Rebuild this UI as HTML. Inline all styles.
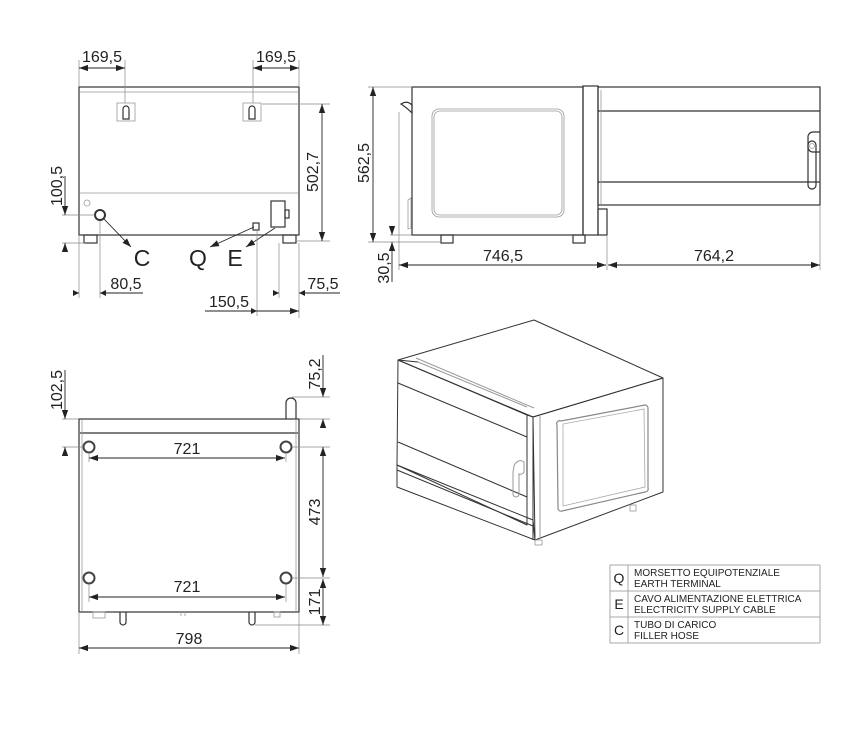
<!DOCTYPE html>
<html><head><meta charset="utf-8"><style>
html,body{margin:0;padding:0;background:#fff;}
svg{display:block;}
text{font-family:"Liberation Sans",sans-serif;fill:#222;}
.d{font-size:16px;}
.k{stroke:#333;stroke-width:1.2;fill:none;}
.g{stroke:#999;stroke-width:0.8;fill:none;}
.e{stroke:#888;stroke-width:0.7;fill:none;}
.a{stroke:#222;stroke-width:0.9;fill:none;}
</style></head><body>
<svg width="847" height="754" viewBox="0 0 847 754" xmlns="http://www.w3.org/2000/svg">
<defs>
<marker id="ar" viewBox="0 0 10 10" refX="10" refY="5" markerWidth="9" markerHeight="9" orient="auto-start-reverse" markerUnits="userSpaceOnUse"><path d="M0,1.5 L10,5 L0,8.5z" fill="#222"/></marker>
</defs>

<!-- ===== TOP-LEFT (rear view) ===== -->
<rect x="79" y="87" width="220" height="148" class="k"/>
<line x1="80" y1="92" x2="298" y2="92" class="g"/>
<line x1="80" y1="193" x2="298" y2="193" class="g"/>
<rect x="117" y="103" width="18" height="18" class="g"/>
<path d="M123,119 V109 a3,3 0 0 1 6,0 V119 z" class="k"/>
<rect x="243" y="103" width="18" height="18" class="g"/>
<path d="M249,119 V109 a3,3 0 0 1 6,0 V119 z" class="k"/>
<circle cx="87" cy="203" r="3" class="g"/>
<circle cx="100" cy="215" r="5" stroke="#333" stroke-width="2" fill="none"/>
<rect x="84" y="235" width="13" height="8" class="k"/>
<rect x="283" y="235" width="13" height="8" class="k"/>
<rect x="271" y="201" width="14" height="26" class="k"/>
<rect x="285" y="210" width="4" height="8" class="k"/>
<rect x="253" y="223" width="6" height="7" class="k"/>
<!-- dims -->
<line x1="79" y1="60" x2="79" y2="87" class="e"/>
<line x1="125" y1="60" x2="125" y2="103" class="e"/>
<line x1="253" y1="60" x2="253" y2="103" class="e"/>
<line x1="299" y1="60" x2="299" y2="87" class="e"/>
<line x1="79" y1="68" x2="125" y2="68" class="a" marker-start="url(#ar)" marker-end="url(#ar)"/>
<line x1="253" y1="68" x2="299" y2="68" class="a" marker-start="url(#ar)" marker-end="url(#ar)"/>
<text x="102" y="62" class="d" text-anchor="middle">169,5</text>
<text x="276" y="62" class="d" text-anchor="middle">169,5</text>
<line x1="262" y1="104" x2="330" y2="104" class="e"/>
<line x1="296" y1="241" x2="330" y2="241" class="e"/>
<line x1="322" y1="104" x2="322" y2="241" class="a" marker-start="url(#ar)" marker-end="url(#ar)"/>
<text transform="translate(318,172) rotate(-90)" class="d" text-anchor="middle">502,7</text>
<line x1="62" y1="215" x2="95" y2="215" class="e"/>
<line x1="62" y1="243" x2="85" y2="243" class="e"/>
<line x1="65" y1="176" x2="65" y2="215" class="a" marker-end="url(#ar)"/>
<line x1="65" y1="250" x2="65" y2="243" class="a" marker-end="url(#ar)"/>
<text transform="translate(62,186) rotate(-90)" class="d" text-anchor="middle">100,5</text>
<line x1="104" y1="219" x2="131" y2="247" class="a" marker-end="url(#ar)"/>
<line x1="254" y1="227" x2="210" y2="247" class="a" marker-end="url(#ar)"/>
<line x1="275" y1="228" x2="246" y2="247" class="a" marker-end="url(#ar)"/>
<text x="142" y="266" font-size="23" text-anchor="middle">C</text>
<text x="198" y="266" font-size="23" text-anchor="middle">Q</text>
<text x="235" y="266" font-size="23" text-anchor="middle">E</text>
<line x1="79" y1="235" x2="79" y2="298" class="e"/>
<line x1="100" y1="221" x2="100" y2="298" class="e"/>
<line x1="73" y1="293" x2="79" y2="293" class="a"/>
<line x1="100" y1="293" x2="143" y2="293" class="a"/>
<path d="M73,290 L79,293 L73,296z" fill="#222"/>
<path d="M106,290 L100,293 L106,296z" fill="#222"/>
<text x="126" y="289" class="d" text-anchor="middle">80,5</text>
<line x1="279" y1="243" x2="279" y2="298" class="e"/>
<line x1="299" y1="243" x2="299" y2="318" class="e"/>
<line x1="273" y1="293" x2="279" y2="293" class="a"/>
<line x1="299" y1="293" x2="340" y2="293" class="a"/>
<path d="M273,290 L279,293 L273,296z" fill="#222"/>
<path d="M305,290 L299,293 L305,296z" fill="#222"/>
<text x="323" y="289" class="d" text-anchor="middle">75,5</text>
<line x1="257" y1="230" x2="257" y2="316" class="e"/>
<line x1="205" y1="311" x2="257" y2="311" class="a"/>
<line x1="257" y1="311" x2="299" y2="311" class="a" marker-end="url(#ar)"/>
<path d="M251,308 L257,311 L251,314z" fill="#222"/>
<text x="229" y="307" class="d" text-anchor="middle">150,5</text>

<!-- ===== TOP-RIGHT (side view) ===== -->
<rect x="412" y="87" width="171" height="148" class="k"/>
<rect x="432" y="109" width="132" height="108" rx="7" class="g"/>
<rect x="434" y="111" width="128" height="104" rx="6" class="g"/>
<rect x="583" y="86" width="15" height="149" class="k"/>
<rect x="598" y="87" width="222" height="118" class="k"/>
<line x1="598" y1="111" x2="820" y2="111" class="k"/>
<line x1="598" y1="182" x2="820" y2="182" class="k"/>
<line x1="601" y1="90" x2="601" y2="204" class="g"/>
<path d="M820,132 h-7 a5,5 0 0 0 -5,5 v10 a5,5 0 0 0 5,5 h7" class="k"/>
<rect x="808" y="141" width="8" height="48" rx="4" class="k"/>
<circle cx="812" cy="146" r="2.5" class="g"/>
<rect x="598" y="209" width="9" height="26" class="k"/>
<rect x="441" y="235" width="12" height="8" class="k"/>
<rect x="573" y="235" width="12" height="8" class="k"/>
<path d="M401,104 q6,-4 11,1 v8 q-6,-6 -11,-9z" class="k"/>
<line x1="399" y1="112" x2="399" y2="235" class="g"/>
<path d="M408,200 l3,-2 v30 l-3,1z" class="g"/>
<line x1="368" y1="87" x2="412" y2="87" class="e"/>
<line x1="368" y1="242" x2="440" y2="242" class="e"/>
<line x1="390" y1="235" x2="412" y2="235" class="e"/>
<line x1="373" y1="87" x2="373" y2="242" class="a" marker-start="url(#ar)" marker-end="url(#ar)"/>
<text transform="translate(369,163) rotate(-90)" class="d" text-anchor="middle">562,5</text>
<line x1="392" y1="226" x2="392" y2="235" class="a" marker-end="url(#ar)"/>
<line x1="392" y1="252" x2="392" y2="242" class="a" marker-end="url(#ar)"/>
<line x1="392" y1="252" x2="392" y2="282" class="a"/>
<text transform="translate(389,268) rotate(-90)" class="d" text-anchor="middle">30,5</text>
<line x1="399" y1="235" x2="399" y2="270" class="e"/>
<line x1="607" y1="235" x2="607" y2="270" class="e"/>
<line x1="820" y1="205" x2="820" y2="270" class="e"/>
<line x1="399" y1="265" x2="606" y2="265" class="a" marker-start="url(#ar)" marker-end="url(#ar)"/>
<line x1="608" y1="265" x2="820" y2="265" class="a" marker-start="url(#ar)" marker-end="url(#ar)"/>
<text x="503" y="261" class="d" text-anchor="middle">746,5</text>
<text x="714" y="261" class="d" text-anchor="middle">764,2</text>

<!-- ===== BOTTOM-LEFT (plan view) ===== -->
<rect x="79" y="419" width="220" height="193" class="k"/>
<line x1="80" y1="433" x2="298" y2="433" class="k"/>
<line x1="82" y1="420" x2="82" y2="611" class="g"/>
<line x1="296" y1="420" x2="296" y2="611" class="g"/>
<path d="M286,419 V403 a5,5 0 0 1 10,0 V419" class="k"/>
<circle cx="89" cy="447" r="5.5" stroke="#444" stroke-width="2" fill="none"/>
<circle cx="286" cy="447" r="5.5" stroke="#444" stroke-width="2" fill="none"/>
<circle cx="89" cy="578" r="5.5" stroke="#444" stroke-width="2" fill="none"/>
<circle cx="286" cy="578" r="5.5" stroke="#444" stroke-width="2" fill="none"/>
<line x1="89" y1="453" x2="89" y2="462" class="e"/>
<line x1="286" y1="453" x2="286" y2="462" class="e"/>
<line x1="89" y1="584" x2="89" y2="602" class="e"/>
<line x1="286" y1="584" x2="286" y2="602" class="e"/>
<line x1="89" y1="458" x2="285" y2="458" class="a" marker-start="url(#ar)" marker-end="url(#ar)"/>
<line x1="89" y1="597" x2="285" y2="597" class="a" marker-start="url(#ar)" marker-end="url(#ar)"/>
<text x="187" y="454" class="d" text-anchor="middle">721</text>
<text x="187" y="592" class="d" text-anchor="middle">721</text>
<rect x="93" y="612" width="12" height="6" class="g"/>
<path d="M120,612 v10 a3,3 0 0 0 6,0 v-10" class="k"/>
<path d="M249,612 v10 a3,3 0 0 0 6,0 v-10" class="k"/>
<path d="M181,612 v4 M185,612 v4" class="g"/>
<rect x="274" y="612" width="6" height="5" class="g"/>
<line x1="79" y1="612" x2="79" y2="654" class="e"/>
<line x1="299" y1="612" x2="299" y2="654" class="e"/>
<line x1="79" y1="648" x2="299" y2="648" class="a" marker-start="url(#ar)" marker-end="url(#ar)"/>
<text x="189" y="644" class="d" text-anchor="middle">798</text>
<line x1="62" y1="419" x2="79" y2="419" class="e"/>
<line x1="62" y1="447" x2="83" y2="447" class="e"/>
<line x1="65" y1="370" x2="65" y2="419" class="a" marker-end="url(#ar)"/>
<line x1="65" y1="454" x2="65" y2="447" class="a" marker-end="url(#ar)"/>
<text transform="translate(62,390) rotate(-90)" class="d" text-anchor="middle">102,5</text>
<line x1="292" y1="397" x2="330" y2="397" class="e"/>
<line x1="299" y1="419" x2="330" y2="419" class="e"/>
<line x1="323" y1="355" x2="323" y2="397" class="a" marker-end="url(#ar)"/>
<line x1="323" y1="426" x2="323" y2="419" class="a" marker-end="url(#ar)"/>
<text transform="translate(320,374) rotate(-90)" class="d" text-anchor="middle">75,2</text>
<line x1="292" y1="447" x2="330" y2="447" class="e"/>
<line x1="292" y1="578" x2="330" y2="578" class="e"/>
<line x1="255" y1="625" x2="330" y2="625" class="e"/>
<line x1="323" y1="447" x2="323" y2="577" class="a" marker-start="url(#ar)" marker-end="url(#ar)"/>
<line x1="323" y1="579" x2="323" y2="625" class="a" marker-start="url(#ar)" marker-end="url(#ar)"/>
<text transform="translate(320,512) rotate(-90)" class="d" text-anchor="middle">473</text>
<text transform="translate(320,602) rotate(-90)" class="d" text-anchor="middle">171</text>

<!-- ===== ISOMETRIC ===== -->
<g stroke="#333" stroke-width="1" fill="none" stroke-linejoin="round">
<polygon points="398,360 534,320 663,378 533,417"/>
<polygon points="398,360 527,415 527,525 397,465"/>
<polygon points="533,417 663,378 663,492 535,540"/>
<polygon points="397,465 533,520 535,540 397,487"/>
<line x1="527" y1="415" x2="533" y2="417"/>
<line x1="533" y1="417" x2="533" y2="540"/>
<line x1="527" y1="415" x2="527" y2="525"/>
<line x1="398" y1="383" x2="527" y2="437"/>
<line x1="398" y1="442" x2="527" y2="497"/>
<line x1="397" y1="470" x2="533" y2="526"/>
<line x1="418" y1="362" x2="527" y2="407" stroke="#999"/>
<line x1="398" y1="360" x2="418" y2="362"/>
<line x1="416" y1="358" x2="534" y2="408" stroke="#999"/>
<line x1="540" y1="416" x2="540" y2="537" stroke="#999"/>
</g>
<path d="M561,421 L645,405 a3,3 0 0 1 3,3 L648,488 a3,3 0 0 1 -3,4 L562,511 a3,3 0 0 1 -4,-3 L557,425 a3,3 0 0 1 4,-4z" fill="none" stroke="#888" stroke-width="1.2"/>
<path d="M563,424 L644,409 L645,487 L563,506z" fill="none" stroke="#aaa" stroke-width="0.8"/>
<path d="M514,466 a7,9 0 0 1 10,-4 v10 a4,4 0 0 1 -5,2 v20 a3,3 0 0 1 -6,0 v-22 z" fill="none" stroke="#999" stroke-width="1"/>
<rect x="630" y="505" width="6" height="6" fill="none" stroke="#999" stroke-width="0.8"/>
<rect x="535" y="540" width="7" height="5" fill="none" stroke="#999" stroke-width="0.8"/>

<!-- ===== TABLE ===== -->
<g stroke="#aaa" stroke-width="1" fill="none">
<rect x="610" y="565" width="210" height="78"/>
<line x1="610" y1="591" x2="820" y2="591"/>
<line x1="610" y1="617" x2="820" y2="617"/>
<line x1="628" y1="565" x2="628" y2="643"/>
</g>
<text x="619" y="583" font-size="14" text-anchor="middle">Q</text>
<text x="619" y="609" font-size="14" text-anchor="middle">E</text>
<text x="619" y="635" font-size="14" text-anchor="middle">C</text>
<g font-size="10">
<text x="634" y="576">MORSETTO EQUIPOTENZIALE</text>
<text x="634" y="587">EARTH TERMINAL</text>
<text x="634" y="602">CAVO ALIMENTAZIONE ELETTRICA</text>
<text x="634" y="613">ELECTRICITY SUPPLY CABLE</text>
<text x="634" y="628">TUBO DI CARICO</text>
<text x="634" y="639">FILLER HOSE</text>
</g>
</svg>
</body></html>
